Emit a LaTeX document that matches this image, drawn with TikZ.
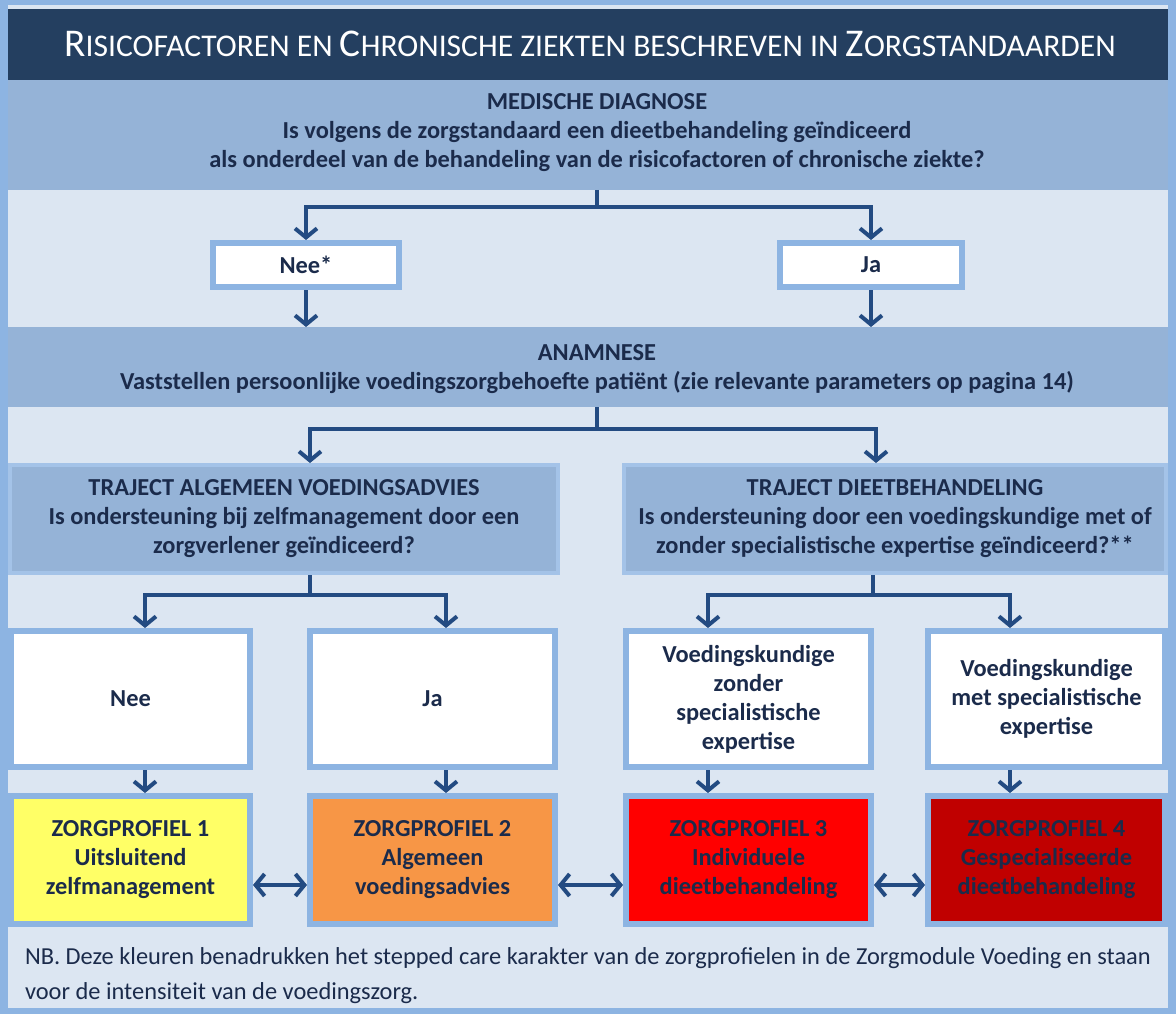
\documentclass[tikz,border=0pt]{standalone}
\usepackage{fontspec}
\setmainfont{Carlito}
\usetikzlibrary{arrows.meta}
\definecolor{navy}{HTML}{243F60}
\definecolor{bandblue}{HTML}{95B3D7}
\definecolor{lightbg}{HTML}{DCE6F2}
\definecolor{frameblue}{HTML}{8DB4E2}
\definecolor{arrowblue}{HTML}{234B82}
\definecolor{txt}{HTML}{1B2B4B}
\definecolor{zpa}{HTML}{FFFF66}
\definecolor{zpb}{HTML}{F79646}
\definecolor{zpc}{HTML}{FF0000}
\definecolor{zpd}{HTML}{C00000}
\newcommand\tsc[2]{{\fontsize{39.3}{44}\selectfont #1}{\fontsize{31.6}{44}\selectfont #2}}
\begin{document}
\begin{tikzpicture}[x=1pt,y=-1pt,
  every node/.style={inner sep=0pt, outer sep=0pt},
  lbl/.style={font=\bfseries\fontsize{24.4}{29}\selectfont, text=txt, align=center},
  band/.style={fill=bandblue, minimum width=1160pt},
  trbox/.style={fill=bandblue, draw=frameblue!80!white, line width=4pt, outer sep=2pt},
  wbox/.style={fill=white, draw=frameblue, line width=6pt, outer sep=3pt, lbl},
  pbox/.style={draw=frameblue, line width=6pt, outer sep=3pt, lbl},
  arr/.style={draw=arrowblue, line width=4pt, -{Straight Barb[length=9pt,width=22pt]}},
  darr/.style={draw=arrowblue, line width=4pt, {Straight Barb[length=9pt,width=22pt]}-{Straight Barb[length=9pt,width=22pt]}},
]
\useasboundingbox (0,0) rectangle (1176,1014);
% frame and background
\fill[frameblue] (0,0) rectangle (1176,1014);
\fill[lightbg] (8,5) rectangle (1168,1008);

% title
\node[fill=navy, minimum width=1160pt, minimum height=71pt] (title) at (588,44.5) {};
\node[text=white] (titlet) at (590,44) {\tsc{R}{ISICOFACTOREN EN }\tsc{C}{HRONISCHE ZIEKTEN BESCHREVEN IN }\tsc{Z}{ORGSTANDAARDEN}};

% medische diagnose
\node[band, minimum height=110pt] (md) at (588,135) {};
\node[lbl] (mdt) at (597,133) {MEDISCHE DIAGNOSE\\Is volgens de zorgstandaard een dieetbehandeling geïndiceerd\\als onderdeel van de behandeling van de risicofactoren of chronische ziekte?};

\node[wbox, minimum width=186pt, minimum height=44pt] (nee) at (306,265) {Nee*};
\node[wbox, minimum width=182pt, minimum height=44pt] (ja) at (871,265) {Ja};

% anamnese
\node[band, minimum height=80pt] (an) at (588,367) {};
\node[lbl] (ant) at (597,369) {ANAMNESE\\Vaststellen persoonlijke voedingszorgbehoefte patiënt (zie relevante parameters op pagina 14)};

% trajects
\node[trbox, minimum width=548pt, minimum height=108pt] (ta) at (284,519) {};
\node[lbl] (tat) at (284,519) {TRAJECT ALGEMEEN VOEDINGSADVIES\\Is ondersteuning bij zelfmanagement door een\\zorgverlener geïndiceerd?};
\node[trbox, minimum width=542pt, minimum height=108pt] (td) at (895,519) {};
\node[lbl] (tdt) at (895,519) {TRAJECT DIEETBEHANDELING\\Is ondersteuning door een voedingskundige met of\\zonder specialistische expertise geïndiceerd?**};

% white answer boxes
\node[wbox, minimum width=239pt, minimum height=136pt] (wa) at (130.5,699) {Nee};
\node[wbox, minimum width=245pt, minimum height=136pt] (wb) at (432.5,699) {Ja};
\node[wbox, minimum width=245pt, minimum height=136pt] (wc) at (748.5,699) {Voedingskundige\\zonder\\specialistische\\expertise};
\node[wbox, minimum width=237pt, minimum height=136pt] (wd) at (1046.5,699) {Voedingskundige\\met specialistische\\expertise};

% profiles
\node[pbox, fill=zpa, minimum width=239pt, minimum height=128pt] (pa) at (130.5,860) {ZORGPROFIEL 1\\Uitsluitend\\zelfmanagement};
\node[pbox, fill=zpb, minimum width=245pt, minimum height=128pt] (pb) at (432.5,860) {ZORGPROFIEL 2\\Algemeen\\voedingsadvies};
\node[pbox, fill=zpc, minimum width=245pt, minimum height=128pt] (pc) at (748.5,860) {ZORGPROFIEL 3\\Individuele\\dieetbehandeling};
\node[pbox, fill=zpd, minimum width=237pt, minimum height=128pt] (pd) at (1046.5,860) {ZORGPROFIEL 4\\Gespecialiseerde\\dieetbehandeling};

% footnote
\node[anchor=west, align=left, text=txt, font=\fontsize{24.4}{35}\selectfont] (nb) at (25,976) {NB. Deze kleuren benadrukken het stepped care karakter van de zorgprofielen in de Zorgmodule Voeding en staan\\voor de intensiteit van de voedingszorg.};

% connectors
\draw[arrowblue, line width=4pt] (md.south -| mdt.south) -- ++(0,17) coordinate (j1);
\draw[arr] (j1) -| (nee.north);
\draw[arr] (j1) -| (ja.north);
\draw[arr] (nee.south) -- (nee.south |- an.north);
\draw[arr] (ja.south) -- (ja.south |- an.north);

\draw[arrowblue, line width=4pt] (an.south -| ant.south) -- ++(0,22) coordinate (j2);
\draw[arr] (j2) -| ([xshift=26pt]ta.north);
\draw[arr] (j2) -| ([xshift=-19pt]td.north);

\draw[arrowblue, line width=4pt] ([xshift=26pt]ta.south) -- ++(0,20) coordinate (j3);
\draw[arr] (j3) -| ([xshift=14.5pt]wa.north);
\draw[arr] (j3) -| ([xshift=13.5pt]wb.north);
\draw[arrowblue, line width=4pt] ([xshift=-22pt]td.south) -- ++(0,20) coordinate (j4);
\draw[arr] (j4) -| ([xshift=-40.5pt]wc.north);
\draw[arr] (j4) -| ([xshift=-36.5pt]wd.north);

\draw[arr] ([xshift=14.5pt]wa.south) -- ([xshift=14.5pt]pa.north);
\draw[arr] ([xshift=13.5pt]wb.south) -- ([xshift=13.5pt]pb.north);
\draw[arr] ([xshift=-40.5pt]wc.south) -- ([xshift=-40.5pt]pc.north);
\draw[arr] ([xshift=-36.5pt]wd.south) -- ([xshift=-36.5pt]pd.north);

\draw[darr] ([yshift=-25pt]pa.east) -- ([yshift=-25pt]pb.west);
\draw[darr] ([yshift=-25pt]pb.east) -- ([yshift=-25pt]pc.west);
\draw[darr] ([yshift=-25pt]pc.east) -- ([yshift=-25pt]pd.west);
\end{tikzpicture}
\end{document}
